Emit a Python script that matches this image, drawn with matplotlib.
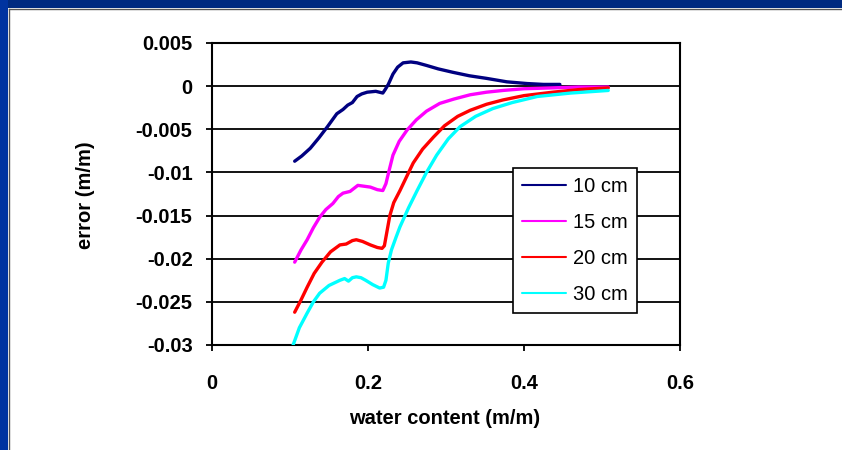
import matplotlib.pyplot as plt
from matplotlib.patches import Rectangle

plt.rcParams['font.family'] = ['Liberation Sans', 'DejaVu Sans']

# error vs. water content for each probe depth
x_10 = [0.106, 0.115, 0.126, 0.137, 0.148, 0.160, 0.168, 0.174, 0.180, 0.186, 0.192, 0.199,
        0.210, 0.219, 0.222, 0.226, 0.232, 0.238, 0.245, 0.255, 0.263, 0.275, 0.290, 0.309,
        0.330, 0.352, 0.378, 0.404, 0.425, 0.446]
y_10 = [-0.0087, -0.0081, -0.0072, -0.0060, -0.0047, -0.0032, -0.0027, -0.0022, -0.0019, -0.0012,
        -0.0009, -0.0007, -0.0006, -0.0008, -0.0004, 0.0002, 0.0014, 0.0022, 0.0027, 0.0028,
        0.0027, 0.0024, 0.0020, 0.0016, 0.0012, 0.0009, 0.0005, 0.0003, 0.0002, 0.0002]

x_15 = [0.106, 0.114, 0.122, 0.130, 0.138, 0.146, 0.155, 0.162, 0.168, 0.177, 0.187, 0.195,
        0.203, 0.212, 0.219, 0.223, 0.227, 0.232, 0.240, 0.250, 0.262, 0.275, 0.292, 0.310,
        0.331, 0.352, 0.373, 0.400, 0.437, 0.470, 0.508]
y_15 = [-0.0204, -0.0190, -0.0178, -0.0164, -0.0152, -0.0143, -0.0136, -0.0128, -0.0124, -0.0122,
        -0.0115, -0.0116, -0.0117, -0.0120, -0.0121, -0.0113, -0.0098, -0.0080, -0.0064, -0.0051,
        -0.0039, -0.0029, -0.0020, -0.0015, -0.0010, -0.0007, -0.0005, -0.0003, -0.0002, -0.0001,
        -0.0001]

x_20 = [0.106, 0.114, 0.122, 0.131, 0.141, 0.152, 0.164, 0.172, 0.180, 0.185, 0.193, 0.203,
        0.212, 0.218, 0.221, 0.224, 0.228, 0.233, 0.241, 0.250, 0.258, 0.270, 0.284, 0.298,
        0.315, 0.331, 0.352, 0.373, 0.400, 0.437, 0.470, 0.508]
y_20 = [-0.0262, -0.0248, -0.0233, -0.0217, -0.0204, -0.0192, -0.0184, -0.0183, -0.0179, -0.0178,
        -0.0180, -0.0184, -0.0187, -0.0188, -0.0185, -0.0170, -0.0150, -0.0135, -0.0121, -0.0104,
        -0.0089, -0.0073, -0.0059, -0.0046, -0.0035, -0.0028, -0.0021, -0.0016, -0.0011, -0.0007,
        -0.0004, -0.0002]

x_30 = [0.104, 0.112, 0.122, 0.130, 0.138, 0.150, 0.164, 0.170, 0.175, 0.180, 0.185, 0.191,
        0.197, 0.206, 0.215, 0.220, 0.223, 0.226, 0.230, 0.236, 0.241, 0.252, 0.263, 0.275,
        0.288, 0.303, 0.318, 0.338, 0.360, 0.385, 0.417, 0.460, 0.508]
y_30 = [-0.0300, -0.0280, -0.0263, -0.0250, -0.0240, -0.0231, -0.0225, -0.0223, -0.0226, -0.0222,
        -0.0221, -0.0222, -0.0225, -0.0230, -0.0234, -0.0233, -0.0225, -0.0205, -0.0190, -0.0175,
        -0.0163, -0.0141, -0.0121, -0.0100, -0.0080, -0.0061, -0.0047, -0.0035, -0.0026, -0.0019,
        -0.0012, -0.0008, -0.0005]

series = [
    (x_10, y_10, '10 cm', '#000080'),
    (x_15, y_15, '15 cm', '#ff00ff'),
    (x_20, y_20, '20 cm', '#ff0000'),
    (x_30, y_30, '30 cm', '#00ffff'),
]

x_ticks = [0, 0.2, 0.4, 0.6]
x_tick_labels = ['0', '0.2', '0.4', '0.6']
y_ticks = [0.005, 0, -0.005, -0.01, -0.015, -0.02, -0.025, -0.03]
y_tick_labels = ['0.005', '0', '-0.005', '-0.01', '-0.015', '-0.02', '-0.025', '-0.03']

W, H = 842, 450
fig = plt.figure(figsize=(W / 100, H / 100), dpi=100)
fig.patch.set_facecolor('white')

# slide frame: navy strip along the top and left edges
fig.add_artist(Rectangle((0, 1 - 8 / H), 1, 8 / H, transform=fig.transFigure,
                         facecolor='#002a80', edgecolor='none'))
fig.add_artist(Rectangle((0, 0), 8 / W, 1, transform=fig.transFigure,
                         facecolor='#0033a0', edgecolor='none'))
fig.add_artist(plt.Line2D([8.5 / W, 1], [1 - 8.5 / H, 1 - 8.5 / H], transform=fig.transFigure,
                          color='#555555', lw=1))
fig.add_artist(plt.Line2D([8.5 / W, 8.5 / W], [0, 1 - 8.5 / H], transform=fig.transFigure,
                          color='#555555', lw=1))

ax = fig.add_axes([212 / W, 1 - 345 / H, 468 / W, 302 / H])
ax.set_xlim(0, 0.6)
ax.set_ylim(-0.03, 0.005)

for yv in y_ticks:
    ax.axhline(yv, color='black', lw=1.3, zorder=1)

for xs, ys, lab, col in series:
    ax.plot(xs, ys, color=col, lw=2.4, label=lab, zorder=3, solid_capstyle='round')

ax.set_xticks(x_ticks)
ax.set_xticklabels(x_tick_labels, fontsize=14.5, fontweight='bold')
ax.set_yticks(y_ticks)
ax.set_yticklabels(y_tick_labels, fontsize=14.5, fontweight='bold')
ax.tick_params(axis='x', direction='out', length=4, width=1.3, pad=17)
ax.tick_params(axis='y', direction='out', length=4, width=1.3, pad=10)
for sp in ax.spines.values():
    sp.set_linewidth(1.5)
    sp.set_color('black')

ax.set_xlabel('water content (m/m)', fontsize=14.5, fontweight='bold')
ax.xaxis.set_label_coords(0.498, -0.212)
ax.set_ylabel('error (m/m)', fontsize=14.5, fontweight='bold')
ax.yaxis.set_label_coords(-0.25, 0.497)

leg = ax.legend(loc='upper left', bbox_to_anchor=(513 / W, 1 - 168 / H),
                bbox_transform=fig.transFigure, borderaxespad=0, fontsize=14.5,
                frameon=True, fancybox=False, edgecolor='black', framealpha=1,
                handlelength=2.2, handletextpad=0.35, labelspacing=0.85, borderpad=0.45)
leg.get_frame().set_linewidth(1.2)
for line in leg.get_lines():
    line.set_linewidth(1.5)
leg.set_zorder(5)

fig.savefig('out.png', dpi=100, facecolor='white')
